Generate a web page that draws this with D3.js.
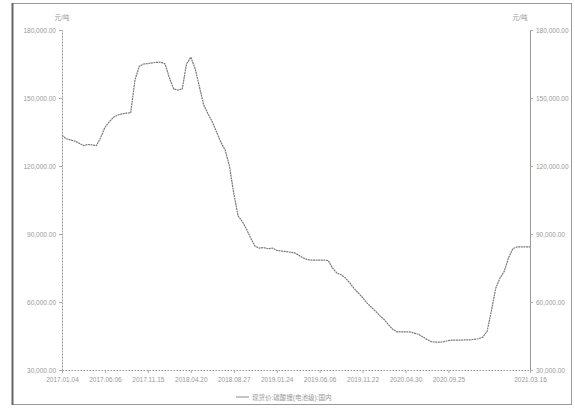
<!DOCTYPE html>
<head>
    <meta charset="utf-8">
    <script src="https://d3js.org/d3.v7.min.js"></script>
    <style>
        body { margin: 0; background: #fff; }
        text { font-family: "Liberation Sans", "Noto Sans CJK SC", sans-serif; }
    </style>
</head>
<body>
    <div id="chart"></div>
</body>
<script>
    // price, yuan/ton, one reading roughly every two weeks
    const prices = [
        133500, 132000, 131500, 131000, 130000, 129000, 129500, 129300, 129000, 132500,
        137000, 139500, 141500, 142500, 143000, 143300, 143500, 158000, 164000, 165000,
        165200, 165500, 165700, 165800, 165000, 159000, 154000, 153500, 154000, 165000,
        168000, 163000, 155000, 147000, 143000, 139500, 135000, 130500, 127000, 120000,
        108000, 98000, 95500, 92000, 88000, 84500, 83800, 84000, 83500, 83800,
        82800, 82500, 82300, 82000, 81800, 80800, 79600, 78800, 78500, 78500,
        78500, 78500, 78300, 75000, 72800, 72000, 70600, 68500, 66000, 64000,
        62000, 59600, 57800, 56000, 54000, 52300, 50000, 48000, 46800, 46800,
        46800, 46800, 46300, 45800, 44600, 43500, 42500, 42300, 42300, 42500,
        43000, 43200, 43200, 43200, 43300, 43300, 43500, 43800, 44500, 47000,
        56000, 66000, 70500, 73500, 79500, 83500, 84300, 84300, 84300, 84300
    ];
    const tickDates = [
        "2017.01.04", "2017.06.06", "2017.11.15", "2018.04.20", "2018.08.27",
        "2019.01.24", "2019.06.06", "2019.11.22", "2020.04.30", "2020.09.25", "2021.03.16"
    ];
    const tickIndex = [0, 10, 20, 30, 40, 50, 60, 70, 80, 90, 109];
    const yTicks = [30000, 60000, 90000, 120000, 150000, 180000];
    const unit = "元/吨";
    const seriesName = "现货价:碳酸锂(电池级):国内";

    const W = 575, H = 410;
    const margin = {top: 30, right: 45, bottom: 40, left: 62};
    const width = W - margin.left - margin.right,
          height = H - margin.top - margin.bottom;

    const svg = d3.select("#chart").append("svg")
        .attr("width", W).attr("height", H);

    // outer frame
    svg.append("rect")
        .attr("x", 12.5).attr("y", 3.5)
        .attr("width", 559).attr("height", 401)
        .attr("fill", "none").attr("stroke", "#999").attr("stroke-width", 1);
    svg.append("line")
        .attr("x1", 12.5).attr("x2", 12.5).attr("y1", 3).attr("y2", 405)
        .attr("stroke", "#666").attr("stroke-width", 2);

    const g = svg.append("g")
        .attr("transform", `translate(${margin.left},${margin.top})`);

    const x = d3.scaleLinear()
        .domain([0, prices.length - 1])
        .range([0, width]);
    const y = d3.scaleLinear()
        .domain([30000, 180000])
        .range([height, 0]);

    const fmt = d3.format(",.2f");

    // left axis
    const yl = g.append("g")
        .call(d3.axisLeft(y).tickValues(yTicks).tickFormat(fmt).tickSize(3).tickSizeOuter(0));
    // right axis
    const yr = g.append("g")
        .attr("transform", `translate(${width},0)`)
        .call(d3.axisRight(y).tickValues(yTicks).tickFormat(fmt).tickSize(3).tickSizeOuter(0));
    // bottom axis
    const xa = g.append("g")
        .attr("transform", `translate(0,${height})`)
        .call(d3.axisBottom(x).tickValues(tickIndex)
            .tickFormat((d, i) => tickDates[i]).tickSize(3).tickSizeOuter(0));

    [yl, yr, xa].forEach(a => {
        a.selectAll("text").attr("fill", "#999").style("font-size", "6.5px");
        a.selectAll("line").attr("stroke", "#aaa");
        a.select(".domain").attr("stroke", "#999");
    });
    yl.select(".domain").attr("stroke-dasharray", "2,1");
    xa.select(".domain").attr("stroke-dasharray", "1.5,1.5");
    xa.selectAll("text").attr("dy", "0.9em");

    // units
    g.append("text").attr("x", 0).attr("y", -10)
        .attr("text-anchor", "middle").attr("fill", "#999")
        .style("font-size", "6.5px").text(unit);
    g.append("text").attr("x", width - 10).attr("y", -10)
        .attr("text-anchor", "middle").attr("fill", "#999")
        .style("font-size", "6.5px").text(unit);

    // series line
    g.append("path")
        .datum(prices)
        .attr("fill", "none")
        .attr("stroke", "#7a7a7a")
        .attr("stroke-width", 1.2)
        .attr("stroke-dasharray", "2,0.6")
        .attr("d", d3.line()
            .x((d, i) => x(i))
            .y(d => y(d)));

    // legend
    const lg = svg.append("g").attr("transform", `translate(236,397)`);
    lg.append("line").attr("x1", 0).attr("x2", 13).attr("y1", 0).attr("y2", 0)
        .attr("stroke", "#888").attr("stroke-width", 1);
    lg.append("text").attr("x", 16).attr("y", 2.5)
        .attr("fill", "#999").style("font-size", "6.5px").text(seriesName);
</script>
</html>
